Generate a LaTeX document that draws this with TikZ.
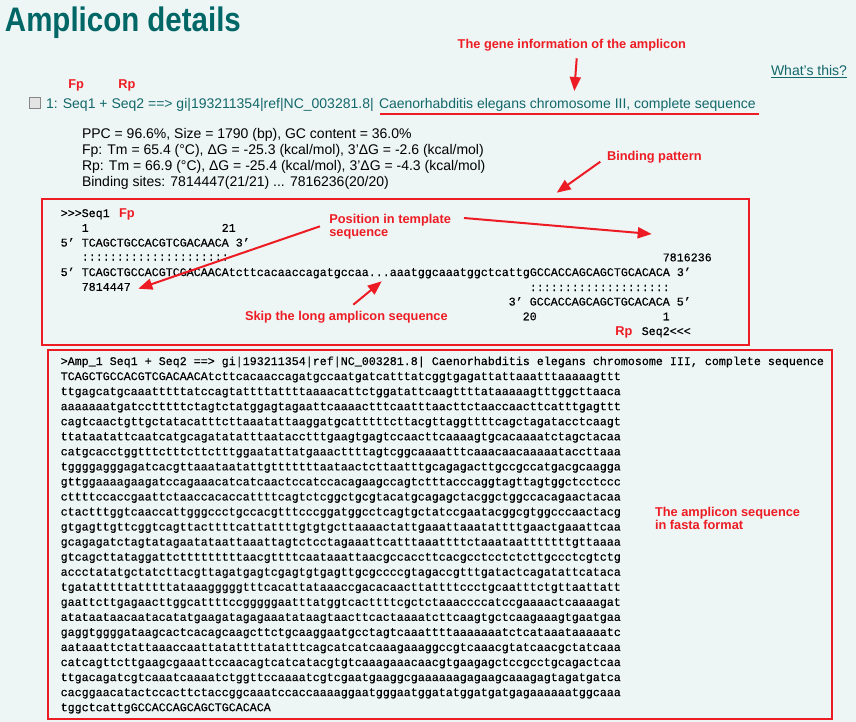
\documentclass[tikz,border=0pt]{standalone}
\usepackage{fontspec}
\setmainfont{Liberation Sans}
\newfontfamily\seqf{Liberation Mono}[FakeBold=0.4]
\usetikzlibrary{arrows.meta}
\definecolor{bg}{RGB}{238,245,245}
\definecolor{tealdark}{RGB}{0,102,102}
\definecolor{tealtext}{RGB}{18,104,106}
\definecolor{annred}{RGB}{237,28,36}
\definecolor{chkgray}{RGB}{135,135,135}
\definecolor{chkfill}{RGB}{228,228,228}
\tikzset{
  x=1pt, y=-1pt,
  every node/.style={inner sep=0pt, outer sep=0pt, anchor=base west},
  seqtxt/.style={font=\seqf\fontsize{11.67}{14}\selectfont, text=black},
  infotxt/.style={font=\fontsize{14}{16}\selectfont, text=black},
  linktxt/.style={font=\fontsize{14}{16}\selectfont, text=tealtext},
  anntxt/.style={font=\bfseries\fontsize{12.8}{15}\selectfont, text=annred},
  annarrow/.style={draw=annred, line width=2pt, -{Triangle[length=14pt,width=11pt]}},
  redbox/.style={draw=annred, line width=2pt},
}
\begin{document}
\begin{tikzpicture}
\fill[bg] (0,0) rectangle (856,722);
\useasboundingbox (0,0) rectangle (856,722);

% title
\node[name=title, text=tealdark, font=\bfseries\fontsize{34}{40}\selectfont] at (5,31.7) {\scalebox{0.867}[1]{Amplicon details}};

% annotation: gene information
\node[anntxt, name=genelbl] at (457.7,48.7) {The gene information of the amplicon};
\coordinate (geneA) at (576.7,58.3);
\coordinate (geneB) at (574.3,91);
\draw[annarrow] (geneA) -- (geneB);

% what's this
\node[linktxt, name=whats] at (771,76) {What's this?};
\draw[tealtext, line width=1pt] ([yshift=-1.8pt]whats.base west) -- ([yshift=-1.8pt]whats.base east);

% Fp / Rp labels
\node[anntxt, name=fphead] at (68.3,88.5) {Fp};
\node[anntxt, name=rphead] at (118.3,88.5) {Rp};

% checkbox and header line
\node[name=chk, draw=chkgray, fill=chkfill, line width=0.8pt, minimum width=11pt, minimum height=11pt, anchor=center] at (35.3,103) {};
\node[linktxt, name=hdrA] at (46,108.5) {1: Seq1 + Seq2 ==> gi|193211354|ref|NC\_003281.8|};
\node[linktxt, name=hdrB] at (379,108.5) {Caenorhabditis elegans chromosome III, complete sequence};
\draw[annred, line width=2pt] ([xshift=1pt,yshift=-5.5pt]hdrB.base west) -- ([xshift=3pt,yshift=-5.5pt]hdrB.base east);

% info lines
\node[infotxt, name=info1] at (82,139) {PPC = 96.6\%, Size = 1790 (bp), GC content = 36.0\%};
\node[infotxt, name=info2] at (82,154.8) {Fp: Tm = 65.4 (°C), ΔG = -25.3 (kcal/mol), 3'ΔG = -2.6 (kcal/mol)};
\node[infotxt, name=info3] at (82,170.6) {Rp: Tm = 66.9 (°C), ΔG = -25.4 (kcal/mol), 3'ΔG = -4.3 (kcal/mol)};
\node[infotxt, name=info4] at (82,186.4) {Binding sites: 7814447(21/21) ... 7816236(20/20)};

% binding pattern annotation
\node[anntxt, name=bindlbl] at (607,160.4) {Binding pattern};
\coordinate (bindA) at (600.3,161.7);
\coordinate (bindB) at (556.7,192.7);
\draw[annarrow] (bindA) -- (bindB);

% box 1: binding pattern
\draw[redbox] (41.5,199) rectangle (749,345.3);
\node[seqtxt, name=b0] at (60.7,217) {{>}{>}{>}Seq1};
\node[anntxt, name=fpbox] at (119,217.5) {Fp};
\node[seqtxt, name=b1a] at ({60.7+7*3},231.75) {1};
\node[seqtxt, name=b1b] at ({60.7+7*23},231.75) {21};
\node[seqtxt, name=b2] at (60.7,246.5) {5’ TCAGCTGCCACGTCGACAACA 3’};
\node[seqtxt, name=b3a] at ({60.7+7*3},260.5) {:::::::::::::::::::::};
\node[seqtxt, name=b3b] at ({60.7+7*86},261.25) {7816236};
\node[seqtxt, name=b4] at (60.7,276) {5’ TCAGCTGCCACGTCGACAACAtcttcacaaccagatgccaa...aaatggcaaatggctcattgGCCACCAGCAGCTGCACACA 3’};
\node[seqtxt, name=b5a] at ({60.7+7*3},290.75) {7814447};
\node[seqtxt, name=b5b] at ({60.7+7*67},291) {::::::::::::::::::::};
\node[seqtxt, name=b6] at ({60.7+7*64},305.5) {3’ GCCACCAGCAGCTGCACACA 5’};
\node[seqtxt, name=b7a] at ({60.7+7*66},320.25) {20};
\node[seqtxt, name=b7b] at ({60.7+7*86},320.25) {1};
\node[seqtxt, name=b8] at ({60.7+7*83},335) {Seq2{<}{<}{<}};
\node[anntxt, name=rpbox] at (615.3,335) {Rp};

\node[anntxt, name=poslbl] at (329.3,223.4) {Position in template};
\node[anntxt, name=poslbl2] at (329.3,236.5) {sequence};
\coordinate (posL0) at (320,226.3);
\coordinate (posL1) at (138.3,288.7);
\coordinate (posR0) at (464,218);
\coordinate (posR1) at (651.7,234);
\draw[annarrow] (posL0) -- (posL1);
\draw[annarrow] (posR0) -- (posR1);

\node[anntxt, name=skiplbl] at (245,320) {Skip the long amplicon sequence};
\coordinate (skip0) at (353.3,304.7);
\coordinate (skip1) at (381.7,281.3);
\draw[annarrow] (skip0) -- (skip1);

% box 2: fasta
\draw[redbox] (48,350) rectangle (832,719);
\node[seqtxt, name=fa0] at (60.7,365) {>Amp\_1 Seq1 + Seq2 ==> gi|193211354|ref|NC\_003281.8| Caenorhabditis elegans chromosome III{,} complete sequence};
\foreach \s [count=\k] in {
TCAGCTGCCACGTCGACAACAtcttcacaaccagatgccaatgatcatttatcggtgagattattaaatttaaaaagttt,
ttgagcatgcaaatttttatccagtattttattttaaaacattctggatattcaagttttataaaaagtttggcttaaca,
aaaaaaatgatcctttttctagtctatggagtagaattcaaaactttcaatttaacttctaaccaacttcatttgagttt,
cagtcaactgttgctatacatttcttaaatattaaggatgcatttttcttacgttaggttttcagctagatacctcaagt,
ttataatattcaatcatgcagatatatttaatacctttgaagtgagtccaacttcaaaagtgcacaaaatctagctacaa,
catgcacctggtttctttcttctttggaatattatgaaacttttagtcggcaaaatttcaaacaacaaaaataccttaaa,
tggggagggagatcacgttaaataatattgtttttttaataactcttaatttgcagagacttgccgccatgacgcaagga,
gttggaaaagaagatccagaaacatcatcaactccatccacagaagccagtctttacccaggtagttagtggctcctccc,
cttttccaccgaattctaaccacaccattttcagtctcggctgcgtacatgcagagctacggctggccacagaactacaa,
ctactttggtcaaccattgggccctgccacgtttcccggatggcctcagtgctatccgaatacggcgtggcccaactacg,
gtgagttgttcggtcagttacttttcattattttgtgtgcttaaaactattgaaattaaatattttgaactgaaattcaa,
gcagagatctagtatagaatataattaaattagtctcctagaaattcatttaaattttctaaataatttttttgttaaaa,
gtcagcttataggattctttttttttaacgttttcaataaattaacgccaccttcacgcctcctctcttgccctcgtctg,
accctatatgctatcttacgttagatgagtcgagtgtgagttgcgccccgtagaccgtttgatactcagatattcataca,
tgatatttttatttttataaagggggtttcacattataaaccgacacaacttattttccctgcaatttctgttaattatt,
gaattcttgagaacttggcattttccgggggaatttatggtcacttttcgctctaaaccccatccgaaaactcaaaagat,
atataataacaatacatatgaagatagagaaatataagtaacttcactaaaatcttcaagtgctcaagaaagtgaatgaa,
gaggtggggataagcactcacagcaagcttctgcaaggaatgcctagtcaaattttaaaaaaatctcataaataaaaatc,
aataaattctattaaaccaattatattttatatttcagcatcatcaaagaaaggccgtcaaacgtatcaacgctatcaaa,
catcagttcttgaagcgaaattccaacagtcatcatacgtgtcaaagaaacaacgtgaagagctccgcctgcagactcaa,
ttgacagatcgtcaaatcaaaatctggttccaaaatcgtcgaatgaaggcgaaaaaagagaagcaaagagtagatgatca,
cacggaacatactccacttctaccggcaaatccaccaaaaggaatgggaatggatatggatgatgagaaaaaatggcaaa,
tggctcattgGCCACCAGCAGCTGCACACA}
{ \node[seqtxt, name=fa\k] at (60.7,{365+15.05*\k}) {\s}; }

\node[anntxt, name=fastalbl1] at (655,516.4) {The amplicon sequence};
\node[anntxt, name=fastalbl2] at (655,529.7) {in fasta format};
\end{tikzpicture}
\end{document}
